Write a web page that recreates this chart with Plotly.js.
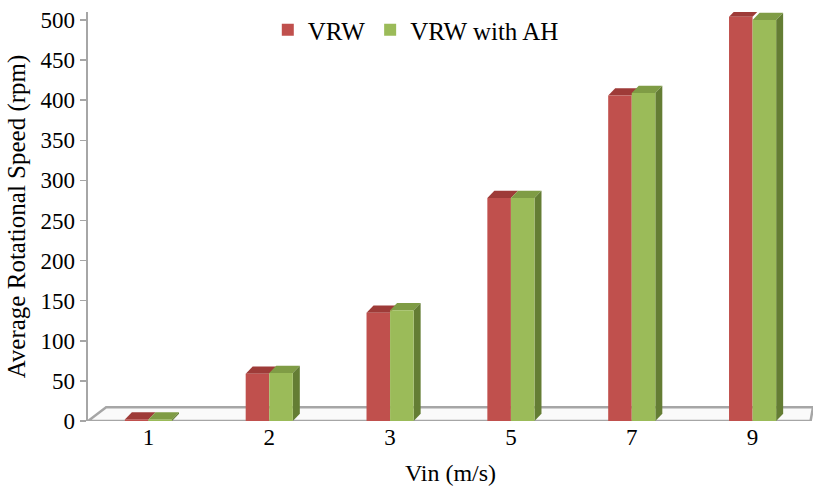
<!DOCTYPE html>
<html>
<head>
<meta charset="utf-8">
<script src="https://cdn.plot.ly/plotly-3.0.1.min.js"></script>
<style>html,body{margin:0;padding:0;background:#fff;}#chart{width:815px;height:486px;}</style>
</head>
<body>
<div id="chart"></div>
<script>
// Data
const categories = ['1', '2', '3', '5', '7', '9'];
const vrw = [2, 59, 135, 278, 406, 504];
const vrwAH = [2, 60, 138, 278, 409, 500];
const seriesNames = ['VRW', 'VRW with AH'];
const yTicks = [0, 50, 100, 150, 200, 250, 300, 350, 400, 450, 500];

// Styling
const red = '#C0504D', redTop = '#9E3B38';
const green = '#9BBB59', greenTop = '#7F9C45', greenSide = '#647D34';
const barW = 0.195;       // data units per bar
const depthX = 0.058;     // pseudo-3D depth (x data units)
const depthY = 9;         // pseudo-3D depth (y data units)
const floorDX = 0.15, floorDY = 17;

const xIdx = categories.map((c, i) => i);

const traces = [
  {type: 'bar', name: seriesNames[0], x: xIdx, y: vrw, width: barW, offset: -barW,
   marker: {color: red, line: {width: 0}}, hoverinfo: 'y'},
  {type: 'bar', name: seriesNames[1], x: xIdx, y: vrwAH, width: barW, offset: 0,
   marker: {color: green, line: {width: 0}}, hoverinfo: 'y'}
];

const shapes = [];
// floor
const xl = -0.5, xr = categories.length - 0.5;
shapes.push({type: 'path', xref: 'x', yref: 'y', layer: 'below',
  path: `M${xl},0 L${xl + floorDX},${floorDY} L${xr},${floorDY} L${xr - 0.02},0 Z`,
  fillcolor: '#FAFAFA', line: {color: '#A6A6A6', width: 2.5}});

function addFaces(vals, off, topCol, sideCol) {
  vals.forEach((v, i) => {
    const x0 = i + off, x1 = x0 + barW;
    shapes.push({type: 'path', xref: 'x', yref: 'y', layer: 'below',
      path: `M${x0},${v} L${x0 + depthX},${v + depthY} L${x1 + depthX},${v + depthY} L${x1},${v} Z`,
      fillcolor: topCol, line: {width: 0}});
    if (sideCol) {
      shapes.push({type: 'path', xref: 'x', yref: 'y', layer: 'below',
        path: `M${x1},0 L${x1 + depthX},${depthY} L${x1 + depthX},${v + depthY} L${x1},${v} Z`,
        fillcolor: sideCol, line: {width: 0}});
    }
  });
}
addFaces(vrw, -barW, redTop, null);
addFaces(vrwAH, 0, greenTop, greenSide);

const family = 'Liberation Serif, Times New Roman, serif';

const layout = {
  width: 815, height: 486,
  margin: {l: 88, r: 2, t: 12, b: 65},
  paper_bgcolor: '#fff', plot_bgcolor: '#fff',
  font: {family: family, color: '#000', size: 23},
  barmode: 'overlay',
  showlegend: true,
  legend: {orientation: 'h', x: 0.248, y: 1.012, xanchor: 'left', yanchor: 'top',
           font: {family: family, size: 25, color: '#000'}, bgcolor: 'rgba(0,0,0,0)', traceorder: 'normal'},
  xaxis: {range: [xl, xr], tickvals: xIdx, ticktext: categories, showgrid: false, zeroline: false,
          showline: false, ticks: '', tickfont: {family: family, size: 23},
          title: {text: 'Vin (m/s)', font: {family: family, size: 24}, standoff: 26}},
  yaxis: {range: [0, 510], tickvals: yTicks, showgrid: false, zeroline: false,
          showline: true, linecolor: '#A6A6A6', linewidth: 2.5,
          ticks: 'outside', ticklen: 6, tickcolor: '#A6A6A6', tickwidth: 1.5, tickfont: {family: family, size: 23},
          title: {text: 'Average Rotational Speed (rpm)', font: {family: family, size: 25}, standoff: 8}},
  shapes: shapes
};

Plotly.newPlot('chart', traces, layout, {displayModeBar: false, staticPlot: true});
</script>
</body>
</html>
